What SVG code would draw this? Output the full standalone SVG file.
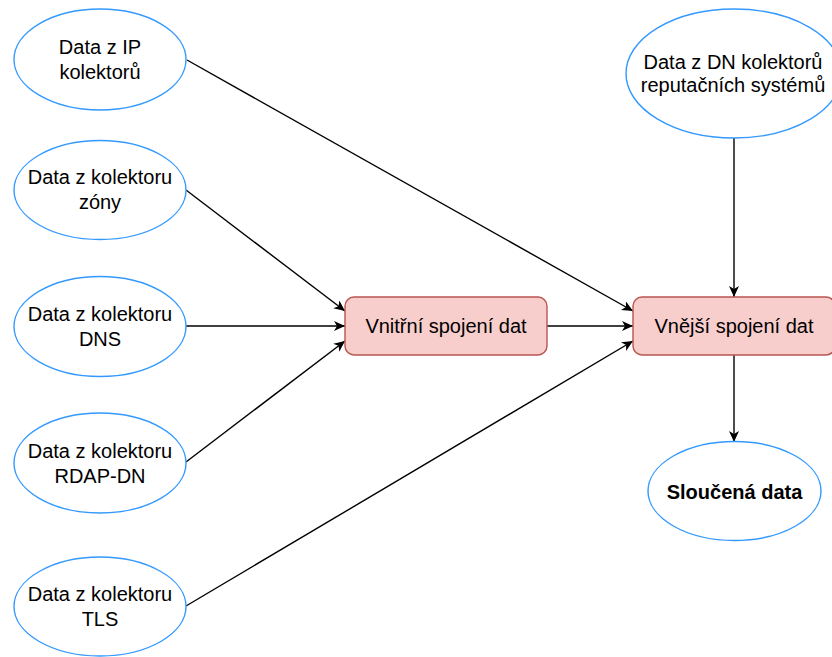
<svg xmlns="http://www.w3.org/2000/svg" width="832" height="657" viewBox="0 0 832 657">
  <defs>
    <marker id="arrow" markerUnits="userSpaceOnUse" markerWidth="14" markerHeight="12" refX="11" refY="5" orient="auto">
      <path d="M0,0 L11,5 L0,10 L3,5 Z" fill="#000"/>
    </marker>
    <style>
      .src { fill: #ffffff; stroke: #3399ff; stroke-width: 1.4; }
      .join { fill: #f8cecc; stroke: #b85450; stroke-width: 1.4; }
      .lbl { font-family: "Liberation Sans", Arial, sans-serif; font-size: 20px; fill: #000; text-anchor: middle; }
      .bold { font-weight: bold; }
      .edge { fill: none; stroke: #000; stroke-width: 1.4; marker-end: url(#arrow); }
    </style>
  </defs>
  <rect width="832" height="657" fill="#ffffff"/>

  <!-- connectors -->
  <g id="edges">
    <line class="edge" x1="187" y1="60" x2="633" y2="311"/>
    <line class="edge" x1="186" y1="190" x2="345" y2="311"/>
    <line class="edge" x1="186" y1="326" x2="345" y2="326"/>
    <line class="edge" x1="186" y1="462" x2="345" y2="341"/>
    <line class="edge" x1="186" y1="606" x2="633" y2="341"/>
    <line class="edge" x1="547" y1="326" x2="633" y2="326"/>
    <line class="edge" x1="734" y1="138" x2="734" y2="297"/>
    <line class="edge" x1="734" y1="355" x2="734" y2="442"/>
  </g>

  <g id="ip">
    <ellipse class="src" cx="100" cy="59.5" rx="86" ry="50.5"/>
    <text class="lbl" x="100" y="54">Data z IP</text>
    <text class="lbl" x="100" y="79">kolektorů</text>
  </g>
  <g id="zona">
    <ellipse class="src" cx="100" cy="190" rx="86" ry="49.5"/>
    <text class="lbl" x="100" y="184">Data z kolektoru</text>
    <text class="lbl" x="100" y="209">zóny</text>
  </g>
  <g id="dns">
    <ellipse class="src" cx="100" cy="326.5" rx="86" ry="50"/>
    <text class="lbl" x="100" y="321">Data z kolektoru</text>
    <text class="lbl" x="100" y="346">DNS</text>
  </g>
  <g id="rdap">
    <ellipse class="src" cx="100" cy="463" rx="86" ry="50"/>
    <text class="lbl" x="100" y="457.5">Data z kolektoru</text>
    <text class="lbl" x="100" y="482.5">RDAP-DN</text>
  </g>
  <g id="tls">
    <ellipse class="src" cx="100" cy="606.5" rx="86" ry="49.5"/>
    <text class="lbl" x="100" y="601">Data z kolektoru</text>
    <text class="lbl" x="100" y="626">TLS</text>
  </g>
  <g id="reputace">
    <ellipse class="src" cx="734" cy="73.5" rx="108" ry="64.5"/>
    <text class="lbl" x="733" y="69">Data z DN kolektorů</text>
    <text class="lbl" x="733" y="92">reputačních systémů</text>
  </g>
  <g id="vnitrni">
    <rect class="join" x="345" y="297" width="202" height="58" rx="9"/>
    <text class="lbl" x="446" y="333">Vnitřní spojení dat</text>
  </g>
  <g id="vnejsi">
    <rect class="join" x="633" y="297" width="202" height="58" rx="9"/>
    <text class="lbl" x="734" y="333">Vnější spojení dat</text>
  </g>
  <g id="slouceno">
    <ellipse class="src" cx="734.5" cy="491" rx="86.5" ry="49.5"/>
    <text class="lbl bold" x="734.5" y="499">Sloučená data</text>
  </g>
</svg>
